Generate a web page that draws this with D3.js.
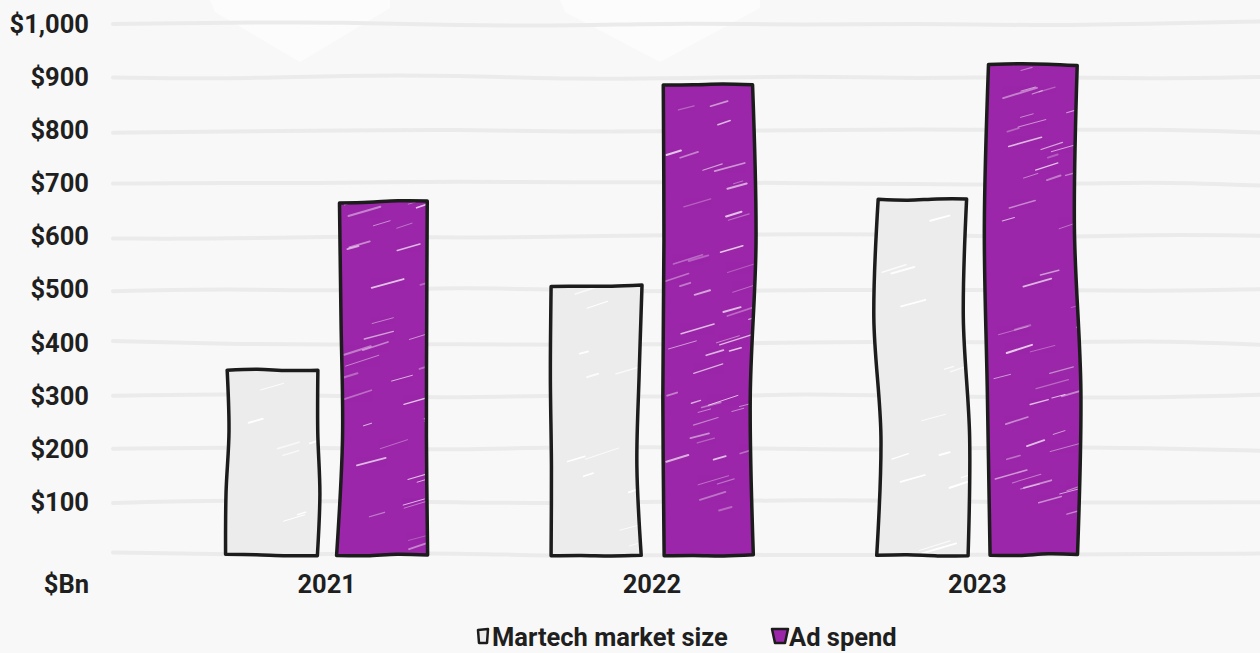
<!DOCTYPE html>
<html><head><meta charset="utf-8">
<script src="https://cdn.jsdelivr.net/npm/d3@7"></script>
<style>
html,body{margin:0;padding:0;background:#f8f8f8;}
svg{display:block;font-family:Roboto,"Noto Sans",sans-serif;}
</style></head>
<body><svg id="chart" width="1260" height="653"></svg>
<script>
const years = ["2021","2022","2023"];
const seriesNames = ["Martech market size","Ad spend"];
const martech = [347, 506, 670];
const adSpend = [665, 885, 923];
const yTicks = [0,100,200,300,400,500,600,700,800,900,1000];
const yTickLabels = ["","$100","$200","$300","$400","$500","$600","$700","$800","$900","$1,000"];
const unitLabel = "$Bn";
const colors = ["#ececec","#9b26a9"];

const W=1260,H=653;
const FS=25.5;
const svg=d3.select("#chart");
const y=d3.scaleLinear().domain([0,1000]).range([555,24]);
const x0=d3.scaleBand().domain(years).range([164,1140]).paddingInner(0).paddingOuter(0);
const x1=d3.scaleBand().domain(seriesNames).range([63,264]).paddingInner(0.19);

// deterministic decoration noise
let seed=11;
function rnd(){seed=(seed*16807)%2147483647;return (seed-1)/2147483646;}

// background decorations
svg.append("rect").attr("width",W).attr("height",H).attr("fill","#f8f8f8");
const deco=svg.append("g").attr("fill","#fcfcfc");
[[210,390],[560,760]].forEach(([a,b])=>{
  const m=(a+b)/2;
  deco.append("path").attr("d",`M${a},0 L${b},0 L${b},8 L${m},62 L${a+5},12 Z`);
});

// gridlines
const line=d3.line().curve(d3.curveBasis);
const grid=svg.append("g");
yTicks.forEach(t=>{
  const yy=y(t);
  const pts=[];
  for(let xx=113;xx<1260;xx+=115){pts.push([xx,yy+(rnd()-0.5)*5]);}
  pts.push([1262,yy+(rnd()-0.5)*5]);
  grid.append("path").attr("d",line(pts)).attr("fill","none")
    .attr("stroke","#ebebeb").attr("stroke-width",4).attr("stroke-linecap","round");
});

// y labels
svg.append("g").selectAll("text").data(yTicks.filter((d,i)=>yTickLabels[i])).join("text")
  .attr("x",89).attr("y",d=>y(d)).attr("dy","0.35em")
  .attr("text-anchor","end").attr("font-size",FS).attr("font-weight",700).attr("fill","#1f1f1f")
  .text(d=>yTickLabels[yTicks.indexOf(d)]);
svg.append("text").attr("x",89).attr("y",584).attr("dy","0.35em")
  .attr("text-anchor","end").attr("font-size",FS).attr("font-weight",700).attr("fill","#1f1f1f")
  .text(unitLabel);

// x labels
svg.append("g").selectAll("text").data(years).join("text")
  .attr("x",d=>x0(d)+x0.bandwidth()/2).attr("y",584).attr("dy","0.35em")
  .attr("text-anchor","middle").attr("font-size",FS).attr("font-weight",700).attr("fill","#1f1f1f")
  .text(d=>d);

// sketchy bar path: sharp corners, gently wobbling edges
const edgeLine=d3.line().curve(d3.curveCatmullRom.alpha(0.5));
function edge(a,b,amp,first){
  const pts=[a];
  for(let k=1;k<=2;k++){
    const t=k/3;
    const dx=b[0]-a[0],dy=b[1]-a[1];
    const len=Math.hypot(dx,dy)||1;
    const nx=-dy/len,ny=dx/len;
    const o=(rnd()-0.5)*amp;
    pts.push([a[0]+dx*t+nx*o,a[1]+dy*t+ny*o]);
  }
  pts.push(b);
  const s=edgeLine(pts);
  return first?s:s.replace(/^M/,"L");
}
function barPath(xL,xR,yT,yB){
  const j=()=> (rnd()-0.5)*3;
  const BL=[xL+j(),yB+j()*0.5],TL=[xL+j(),yT+j()],TR=[xR+j(),yT+j()],BR=[xR+j(),yB+j()*0.5];
  const hAmp=Math.min(10,(yB-yT)/20);
  return edge(BL,TL,hAmp,true)+edge(TL,TR,2.5,false)+edge(TR,BR,hAmp,false)+edge(BR,BL,2,false)+"Z";
}

const data=years.map((yr,i)=>({year:yr,vals:[martech[i],adSpend[i]]}));
const defs=svg.append("defs");
const bars=svg.append("g");
let cid=0;
data.forEach(d=>{
  d.vals.forEach((v,si)=>{
    const xL=x0(d.year)+x1(seriesNames[si]);
    const xR=xL+x1.bandwidth();
    const yT=y(v), yB=y(0);
    const p=barPath(xL,xR,yT,yB);
    const id="clip"+(cid++);
    defs.append("clipPath").attr("id",id).append("path").attr("d",p);
    bars.append("path").attr("d",p).attr("fill",colors[si]);
    const hg=bars.append("g").attr("clip-path",`url(#${id})`);
    const count=Math.round((yB-yT)/(si===1?10:25));
    for(let k=0;k<count;k++){
      const sx=xL+rnd()*(xR-xL);
      const sy=yT+rnd()*(yB-yT);
      const len=8+rnd()*28;
      const ang=-0.25-rnd()*0.08;
      hg.append("line").attr("x1",sx).attr("y1",sy)
        .attr("x2",sx+len*Math.cos(ang)).attr("y2",sy+len*Math.sin(ang))
        .attr("stroke","#ffffff").attr("stroke-width",0.7+rnd()*1.4)
        .attr("stroke-linecap","round").attr("opacity",(si===1?0.25:0.6)+rnd()*0.5);
    }
    bars.append("path").attr("d",p).attr("fill","none").attr("stroke","#1c1c1c")
      .attr("stroke-width",3.5).attr("stroke-linejoin","round");
  });
});

// legend
const lg=svg.append("g").attr("font-size",FS).attr("font-weight",700).attr("fill","#1f1f1f");
lg.append("path").attr("d","M478,630 L488,629 L487,643 L479,643 Z").attr("fill",colors[0])
  .attr("stroke","#1c1c1c").attr("stroke-width",2.5).attr("stroke-linejoin","round");
lg.append("text").attr("x",492).attr("y",637).attr("dy","0.35em").text(seriesNames[0]);
lg.append("path").attr("d","M772,629 L788,629 L785,643 L775,643 Z").attr("fill",colors[1])
  .attr("stroke","#1c1c1c").attr("stroke-width",2.5).attr("stroke-linejoin","round");
lg.append("text").attr("x",789).attr("y",637).attr("dy","0.35em").text(seriesNames[1]);
</script></body></html>
